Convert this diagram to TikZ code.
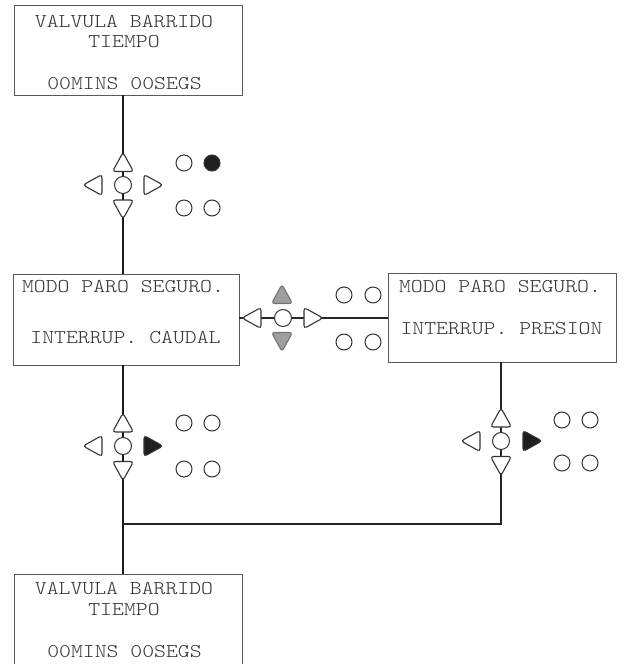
\documentclass[tikz,border=0pt]{standalone}
\usepackage{fontspec}
\newfontfamily\monof{Latin Modern Mono Light}
\newcommand{\wtxt}[1]{\scalebox{1.16}[1]{#1}}
\begin{document}
\begin{tikzpicture}[x=1pt,y=-1pt,
  box/.style={draw=black!65,line width=0.9pt,fill=white,inner sep=0pt},
  txt/.style={font=\monof\fontsize{19.5}{20}\selectfont,text=black!80,anchor=base,inner sep=0pt},
  mainline/.style={line width=2.6pt,black!90},
  sideline/.style={line width=2pt,black!85},
  key/.style={draw=black!80,line width=1.1pt,fill=white,rounded corners=3pt},
  keyfill/.style={key,fill=black!88},
  keygray/.style={key,draw=black!55,fill=black!38},
  led/.style={draw=black!80,line width=1pt,fill=white},
  ledon/.style={led,fill=black!88},
  tup/.pic={\path[pic actions] (0,-10.5) -- (10.5,8.5) -- (-10.5,8.5) -- cycle;},
  tdown/.pic={\path[pic actions] (0,10.5) -- (10.5,-8.5) -- (-10.5,-8.5) -- cycle;},
  tleft/.pic={\path[pic actions] (-10.5,0) -- (8.5,-10.5) -- (8.5,10.5) -- cycle;},
  tright/.pic={\path[pic actions] (10.5,0) -- (-8.5,-10.5) -- (-8.5,10.5) -- cycle;},
]
\useasboundingbox (0,0) rectangle (624,664);
\clip (0,0) rectangle (624,664);
\fill[white] (0,0) rectangle (624,664);

% boxes
\node[box,minimum width=228pt,minimum height=90pt] (top) at (128,50) {};
\node[box,minimum width=226pt,minimum height=91pt] (midl) at (126,319.5) {};
\node[box,minimum width=228pt,minimum height=89pt] (midr) at (502,317.5) {};
\node[box,minimum width=228pt,minimum height=120pt] (bot) at (128,634) {};

% texts
\node[txt] (t1) at (124,27) {\wtxt{VALVULA BARRIDO}};
\node[txt] (t2) at (124,47) {\wtxt{TIEMPO}};
\node[txt] (t3) at (124.5,89) {\wtxt{00MINS 00SEGS}};
\node[txt] (m1) at (123,292) {\wtxt{MODO PARO SEGURO.}};
\node[txt] (m2) at (125.5,343) {\wtxt{INTERRUP. CAUDAL}};
\node[txt] (r1) at (500,292) {\wtxt{MODO PARO SEGURO.}};
\node[txt] (r2) at (501.5,334) {\wtxt{INTERRUP. PRESION}};
\node[txt] (b1) at (124,594) {\wtxt{VALVULA BARRIDO}};
\node[txt] (b2) at (124,615) {\wtxt{TIEMPO}};
\node[txt] (b3) at (124.5,657) {\wtxt{00MINS 00SEGS}};

% keypad centres and junction
\coordinate (k1) at (123,185);
\coordinate (k2) at (283,318);
\coordinate (k3) at (123,446);
\coordinate (k4) at (501,441);
\coordinate (j) at (123,524);

% connectors
\draw[mainline] (top.south -| k1) -- (midl.north -| k1);
\draw[mainline] (midl.south -| k3) -- (bot.north -| k3);
\draw[sideline] (midr.south -| k4) |- (j);
\draw[sideline] (midl.east |- k2) -- (midr.west |- k2);

% keypad 1
\pic[key] at (123,163) {tup};
\pic[key] at (123,208.5) {tdown};
\pic[key] at (93.5,185) {tleft};
\pic[key] at (152.5,185) {tright};
\draw[led] (k1) circle (8.5);
\draw[led] (184,163) circle (8);
\draw[ledon] (212,163) circle (8);
\draw[led] (184,208) circle (8);
\draw[led] (212,208) circle (8);

% keypad 2
\pic[keygray] at (282,295) {tup};
\pic[keygray] at (282,341) {tdown};
\pic[key] at (252.5,318) {tleft};
\pic[key] at (312.5,318) {tright};
\draw[led] (k2) circle (8.5);
\draw[led] (344,295) circle (8);
\draw[led] (373,295) circle (8);
\draw[led] (344,342) circle (8);
\draw[led] (373,342) circle (8);

% keypad 3
\pic[key] at (123,423.5) {tup};
\pic[key] at (123,470) {tdown};
\pic[key] at (93.5,446) {tleft};
\pic[keyfill] at (152.5,446) {tright};
\draw[led] (k3) circle (8.5);
\draw[led] (184,423) circle (8);
\draw[led] (212,423) circle (8);
\draw[led] (184,469) circle (8);
\draw[led] (212,469) circle (8);

% keypad 4
\pic[key] at (501,418.5) {tup};
\pic[key] at (501,465) {tdown};
\pic[key] at (471.5,441) {tleft};
\pic[keyfill] at (531.5,441) {tright};
\draw[led] (k4) circle (8.5);
\draw[led] (562,420) circle (8);
\draw[led] (590,420) circle (8);
\draw[led] (562,463) circle (8);
\draw[led] (590,463) circle (8);
\end{tikzpicture}
\end{document}
